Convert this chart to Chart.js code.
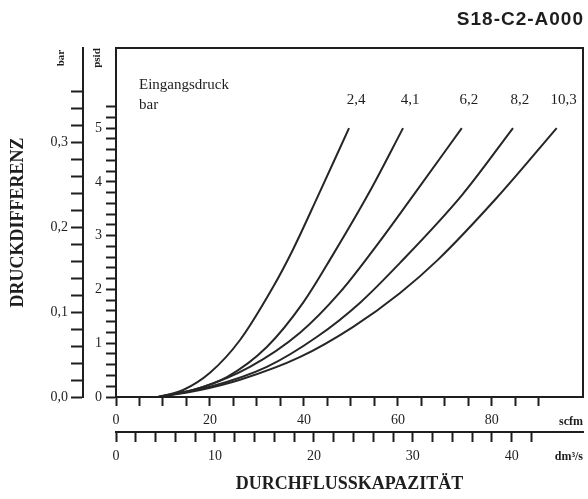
<!DOCTYPE html>
<html>
<head>
<meta charset="utf-8">
<script src="https://cdn.jsdelivr.net/npm/chart.js@4.4.1/dist/chart.umd.min.js"></script>
<style>
  html, body { margin: 0; padding: 0; background: #fff; }
  #wrap { width: 588px; height: 499px; }
</style>
</head>
<body>
<div id="wrap"><canvas id="chart" width="588" height="499"></canvas></div>
<script>
// Inlet pressure (bar) of each curve
const inletPressures = ['2,4', '4,1', '6,2', '8,2', '10,3'];

// Flow (scfm) and pressure drop (psid)
const flow24  = [9, 14.3, 20, 26.4, 33.4, 37.6, 43, 49.6];
const drop24  = [0, 0.13, 0.45, 1.06, 2.04, 2.73, 3.74, 5.0];
const flow41  = [9, 16.4, 23.6, 32.1, 39.8, 46, 54, 61.1];
const drop41  = [0, 0.13, 0.37, 0.93, 1.75, 2.62, 3.82, 5.0];
const flow62  = [9, 17.9, 28.5, 39.1, 47.7, 55.5, 63.2, 73.6];
const drop62  = [0, 0.17, 0.56, 1.19, 1.95, 2.82, 3.74, 5.0];
const flow82  = [9, 20, 32.1, 42.8, 51.9, 60.4, 73.6, 84.5];
const drop82  = [0, 0.19, 0.56, 1.12, 1.75, 2.49, 3.75, 5.0];
const flow103 = [9, 17.9, 26.4, 39.1, 50.4, 60.4, 68.5, 81, 93.8];
const drop103 = [0, 0.13, 0.32, 0.74, 1.3, 1.93, 2.55, 3.7, 5.0];

const flowSeries = [flow24, flow41, flow62, flow82, flow103];
const dropSeries = [drop24, drop41, drop62, drop82, drop103];

// Tick labels on each axis
const scfmLabels = [0, 20, 40, 60, 80];
const dm3Labels  = [0, 10, 20, 30, 40];
const psidLabels = [0, 1, 2, 3, 4, 5];
const barLabels  = [0, 0.1, 0.2, 0.3];

// Axis ranges
const scfmMax = 99.4, dm3Max = 47.2, psidMax = 6.49, barMax = 0.4106;

const ink = '#1e1e1e';
const serif = 'Liberation Serif, DejaVu Serif, serif';
const tickFont = { family: serif, size: 14 };

function hasLabel(list, v) {
  return list.some(l => Math.abs(l - v) < 1e-6);
}

function axisGrid(len) {
  return { drawOnChartArea: false, drawTicks: true, tickLength: len, tickWidth: 2, tickColor: ink };
}
const axisBorder = { display: true, width: 2, color: ink };

const datasets = inletPressures.map((p, i) => ({
  label: p,
  data: flowSeries[i].map((x, j) => ({ x: x, y: dropSeries[i][j] })),
  borderColor: '#262626',
  borderWidth: 2,
  pointRadius: 0,
  cubicInterpolationMode: 'monotone',
  xAxisID: 'x',
  yAxisID: 'y'
}));

// Frame and the extra texts around the plot
const annotations = {
  id: 'annotations',
  afterDraw(chart) {
    const ctx = chart.ctx;
    const a = chart.chartArea;
    ctx.save();
    ctx.strokeStyle = ink;
    ctx.lineWidth = 2;
    ctx.strokeRect(a.left, a.top, a.right - a.left, a.bottom - a.top);

    ctx.fillStyle = ink;
    ctx.textBaseline = 'middle';

    ctx.font = 'bold 19px Liberation Sans, Arial, sans-serif';
    ctx.textAlign = 'right';
    ctx.letterSpacing = '1px';
    ctx.fillText('S18-C2-A000', 584, 20);
    ctx.letterSpacing = '0px';

    // unit captions above the two vertical axes
    ctx.font = 'bold 11px ' + serif;
    [['bar', 61], ['psid', 97]].forEach(([t, x]) => {
      ctx.save();
      ctx.translate(x, 58);
      ctx.rotate(-Math.PI / 2);
      ctx.textAlign = 'center';
      ctx.fillText(t, 0, 0);
      ctx.restore();
    });

    ctx.font = '15px ' + serif;
    ctx.textAlign = 'left';
    ctx.fillText('Eingangsdruck', 139, 85);
    ctx.fillText('bar', 139, 105);

    // curve labels above the end of each curve
    ctx.textAlign = 'center';
    chart.data.datasets.forEach((ds, i) => {
      const last = ds.data[ds.data.length - 1];
      const px = chart.scales.x.getPixelForValue(last.x);
      const py = chart.scales.y.getPixelForValue(last.y);
      ctx.fillText(ds.label, px + 7, py - 28);
    });

    ctx.font = 'bold 12px ' + serif;
    ctx.textAlign = 'right';
    ctx.fillText('scfm', 583, 422);
    ctx.fillText('dm\u00b3/s', 583, 457);
    ctx.restore();
  }
};

new Chart(document.getElementById('chart'), {
  type: 'line',
  data: { datasets: datasets },
  options: {
    responsive: false,
    animation: false,
    layout: { padding: { left: 0, top: 48, right: 5, bottom: 0 } },
    plugins: { legend: { display: false }, tooltip: { enabled: false } },
    scales: {
      x: {
        type: 'linear', axis: 'x', position: 'bottom', weight: 0,
        min: 0, max: scfmMax,
        afterBuildTicks: s => { s.ticks = s.ticks.filter(t => t.value <= 90.01); },
        afterFit: s => { s.height = 35; },
        ticks: {
          stepSize: 5, autoSkip: false, maxRotation: 0, padding: 6,
          font: tickFont, color: ink,
          callback: v => hasLabel(scfmLabels, v) ? String(Math.round(v)) : ''
        },
        grid: axisGrid(9),
        border: axisBorder
      },
      x2: {
        type: 'linear', axis: 'x', position: 'bottom', weight: 1,
        min: 0, max: dm3Max,
        afterBuildTicks: s => { s.ticks = s.ticks.filter(t => t.value <= 42.01); },
        afterFit: s => { s.height = 67; },
        ticks: {
          stepSize: 2, autoSkip: false, maxRotation: 0, padding: 6,
          font: tickFont, color: ink,
          callback: v => hasLabel(dm3Labels, v) ? String(Math.round(v)) : ''
        },
        grid: axisGrid(10),
        border: axisBorder,
        title: {
          display: true, text: 'DURCHFLUSSKAPAZITÄT', color: ink,
          font: { family: serif, size: 18, weight: 'bold' },
          padding: { top: 0, bottom: 4 }
        }
      },
      y: {
        type: 'linear', axis: 'y', position: 'left', weight: 0,
        min: 0, max: psidMax,
        afterBuildTicks: s => { s.ticks = s.ticks.filter(t => t.value <= 5.41); },
        afterFit: s => { s.width = 33; },
        ticks: {
          stepSize: 0.2, autoSkip: false, padding: 4,
          font: tickFont, color: ink,
          callback: v => hasLabel(psidLabels, v) ? String(Math.round(v)) : ''
        },
        grid: axisGrid(10),
        border: axisBorder
      },
      y2: {
        type: 'linear', axis: 'y', position: 'left', weight: 1,
        min: 0, max: barMax,
        afterBuildTicks: s => { s.ticks = s.ticks.filter(t => t.value <= 0.361); },
        afterFit: s => { s.width = 83; },
        ticks: {
          stepSize: 0.02, autoSkip: false, padding: 3,
          font: tickFont, color: ink,
          callback: v => hasLabel(barLabels, v) ? v.toFixed(1).replace('.', ',') : ''
        },
        grid: axisGrid(12),
        border: axisBorder,
        title: {
          display: true, text: 'DRUCKDIFFERENZ', color: ink,
          font: { family: serif, size: 18, weight: 'bold' },
          padding: { top: 8, bottom: 0 }
        }
      }
    }
  },
  plugins: [annotations]
});
</script>
</body>
</html>
